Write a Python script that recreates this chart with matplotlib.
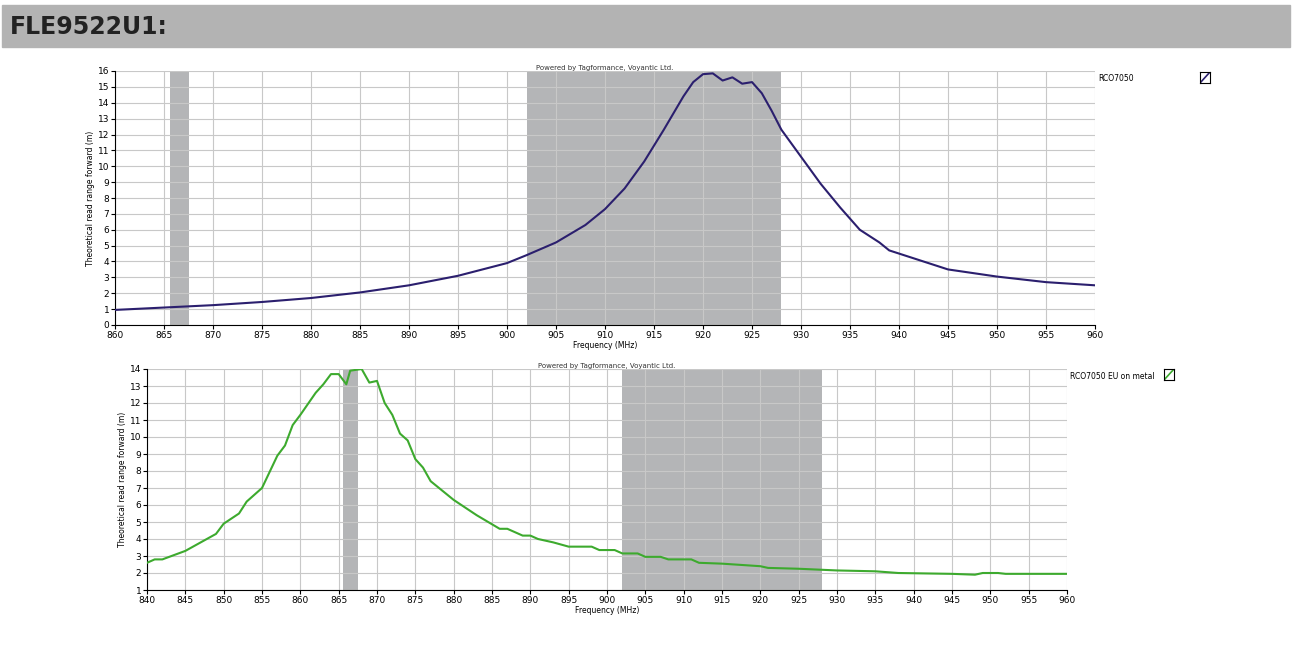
import matplotlib.pyplot as plt
from matplotlib.patches import Rectangle

# top chart: RCO7050
freq_top = [860, 865, 870, 875, 880, 885, 890, 895, 900, 902, 905, 908, 910, 912, 914, 916, 918, 919,
            920, 921, 922, 923, 924, 925, 926, 927, 928, 930, 932, 934, 936, 938, 939, 940, 945, 950, 955, 960]
range_top = [0.95, 1.1, 1.25, 1.45, 1.7, 2.05, 2.5, 3.1, 3.9, 4.4, 5.2, 6.3, 7.3, 8.6, 10.3, 12.3, 14.4, 15.3,
             15.8, 15.85, 15.4, 15.6, 15.2, 15.3, 14.6, 13.5, 12.3, 10.6, 8.9, 7.4, 6.0, 5.2, 4.7, 4.5, 3.5, 3.05, 2.7, 2.5]

# bottom chart: RCO7050 EU on metal
freq_bot = [840, 841, 842, 845, 849, 850, 852, 853, 855, 857, 858, 859, 860, 862, 863, 864, 865, 866, 866.5,
            868, 869, 870, 871, 872, 873, 874, 875, 876, 877, 880, 883, 886, 887, 889, 890, 891, 893, 895, 898,
            899, 901, 902, 904, 905, 907, 908, 911, 912, 915, 920, 921, 925, 930, 935, 938, 945, 948, 949, 951,
            952, 960]
range_bot = [2.6, 2.8, 2.8, 3.3, 4.3, 4.9, 5.5, 6.2, 7.0, 8.9, 9.5, 10.7, 11.3, 12.6, 13.1, 13.7, 13.7, 13.1, 13.9,
             14.0, 13.2, 13.3, 12.0, 11.3, 10.2, 9.8, 8.7, 8.2, 7.4, 6.3, 5.4, 4.6, 4.6, 4.2, 4.2, 4.0, 3.8, 3.55, 3.55,
             3.35, 3.35, 3.15, 3.15, 2.95, 2.95, 2.8, 2.8, 2.6, 2.55, 2.4, 2.3, 2.25, 2.15, 2.1, 2.0, 1.95, 1.9, 2.0, 2.0,
             1.95, 1.95]

bands = [(865.6, 867.5), (902, 928)]

W, H = 1295, 668
fig = plt.figure(figsize=(W / 100, H / 100), dpi=100)

# header banner
fig.patches.append(Rectangle((2 / W, 1 - 47 / H), 1288 / W, 42 / H, transform=fig.transFigure,
                             color='#b3b3b3', zorder=0))
fig.text(10 / W, 1 - 27 / H, 'FLE9522U1:', fontsize=17, fontweight='bold', color='#222222', va='center')


def make_panel(rect, x, y, xlim, ylim, color, label):
    ax = fig.add_axes(rect)
    for a, b in bands:
        ax.axvspan(a, b, color='#b4b5b7', lw=0, zorder=1)
    ax.plot(x, y, color=color, lw=1.5, zorder=3)
    ax.set_xlim(*xlim)
    ax.set_ylim(*ylim)
    ax.set_xticks(range(xlim[0], xlim[1] + 1, 5))
    ax.set_yticks(range(ylim[0], ylim[1] + 1))
    ax.grid(True, color='#c8c8c8', lw=0.8, zorder=0)
    for s in ['top', 'right']:
        ax.spines[s].set_visible(False)
    ax.tick_params(labelsize=6.5, length=3, pad=1)
    ax.set_xlabel('Frequency (MHz)', fontsize=5.5, labelpad=1)
    ax.set_ylabel('Theoretical read range forward (m)', fontsize=5.5, labelpad=2)
    ax.set_title('Powered by Tagformance, Voyantic Ltd.', fontsize=5, pad=1, color='#333333')
    pos = ax.get_position()
    fig.text(pos.x1 + 3 / W, pos.y1 - 3 / H, label, fontsize=5.5, va='top')
    return ax


make_panel([115 / W, 1 - 325 / H, 980 / W, 254 / H], freq_top, range_top, (860, 960), (0, 16),
           '#2b1f6e', 'RCO7050')
make_panel([147 / W, 1 - 590 / H, 920 / W, 221 / H], freq_bot, range_bot, (840, 960), (1, 14),
           '#3daa2e', 'RCO7050 EU on metal')

# legend icons
for (px, py, c) in [(1200, 72, '#2b1f6e'), (1164, 369, '#3daa2e')]:
    iax = fig.add_axes([px / W, 1 - (py + 11) / H, 10 / W, 11 / H])
    iax.plot([0.1, 0.9], [0.1, 0.9], color=c, lw=1.2)
    iax.set_xlim(0, 1)
    iax.set_ylim(0, 1)
    iax.set_xticks([])
    iax.set_yticks([])

fig.savefig('out.png', dpi=100)
